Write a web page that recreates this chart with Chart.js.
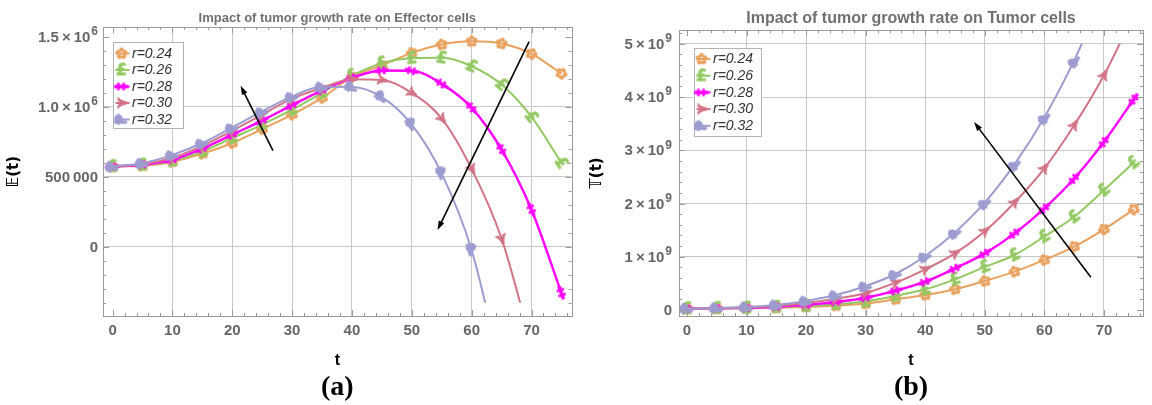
<!DOCTYPE html>
<html>
<head>
<meta charset="utf-8">
<script src="https://cdn.jsdelivr.net/npm/chart.js@4.4.1/dist/chart.umd.min.js"></script>
<style>
  html, body { margin: 0; padding: 0; background: #fff; }
  #wrap { position: relative; width: 1152px; height: 405px; overflow: hidden; }
  #effector { position: absolute; left: 0; top: 0; }
  #tumor { position: absolute; left: 580px; top: 0; }
</style>
</head>
<body>
<div id="wrap">
  <canvas id="effector" width="580" height="405"></canvas>
  <canvas id="tumor" width="572" height="405"></canvas>
</div>
<script>
/* ── Datos: muestreo cada 5 días ── */
var T_POINTS = [0, 5, 10, 15, 20, 25, 30, 35, 40, 45, 50, 55, 60, 65, 70, 75];
var RATES    = ['r=0.24', 'r=0.26', 'r=0.28', 'r=0.30', 'r=0.32'];

/* Células efectoras E(t) */
var E_024 = [572000, 578000, 605000, 664000, 740000, 840000, 943000, 1062000, 1212000, 1295000, 1383000, 1443000, 1466000, 1450000, 1376000, 1236000];
var E_026 = [572000, 582000, 612000, 680000, 776000, 871000, 978000, 1098000, 1221000, 1310000, 1345000, 1348000, 1288000, 1157000, 926000, 598000];
var E_028 = [572000, 585000, 620000, 700000, 800000, 900000, 1010000, 1116000, 1205000, 1257000, 1255000, 1162000, 991000, 693000, 264000, -331000];
var E_030 = [572000, 590000, 635000, 720000, 828000, 943000, 1057000, 1133000, 1195000, 1190000, 1098000, 914000, 555000, 57000, -700000, null];
var E_032 = [572000, 596000, 655000, 740000, 852000, 966000, 1073000, 1141000, 1140000, 1068000, 871000, 521000, -26000, -900000, null, null];

/* Células tumorales T(t), en unidades de 10^9 */
var T_024 = [0.025, 0.028, 0.033, 0.042, 0.058, 0.08, 0.12, 0.2, 0.282, 0.39, 0.545, 0.72, 0.94, 1.19, 1.515, 1.89];
var T_026 = [0.025, 0.029, 0.037, 0.05, 0.075, 0.11, 0.16, 0.263, 0.388, 0.576, 0.81, 1.033, 1.38, 1.75, 2.25, 2.77];
var T_028 = [0.025, 0.031, 0.042, 0.06, 0.095, 0.15, 0.23, 0.363, 0.532, 0.783, 1.064, 1.44, 1.91, 2.47, 3.16, 3.96];
var T_030 = [0.025, 0.033, 0.048, 0.075, 0.13, 0.21, 0.32, 0.513, 0.764, 1.064, 1.48, 2.02, 2.66, 3.47, 4.41, 5.55];
var T_032 = [0.025, 0.035, 0.055, 0.095, 0.17, 0.28, 0.45, 0.676, 1.014, 1.459, 2.02, 2.74, 3.62, 4.69, 5.95, null];

/* Marcas de los ejes (mantisa y exponente por separado) */
var X_TICKS       = [0, 10, 20, 30, 40, 50, 60, 70];
var X_TICK_LABELS = ['0', '10', '20', '30', '40', '50', '60', '70'];
var E_TICKS       = [0, 500000, 1000000, 1500000];
var E_TICK_LABELS = ['0', '500\u2009000', '1.0\u2009\u00d7\u200910', '1.5\u2009\u00d7\u200910'];
var E_TICK_EXP    = ['', '', '6', '6'];
var T_TICKS       = [0, 1, 2, 3, 4, 5];
var T_TICK_LABELS = ['0', '1\u2009\u00d7\u200910', '2\u2009\u00d7\u200910', '3\u2009\u00d7\u200910', '4\u2009\u00d7\u200910', '5\u2009\u00d7\u200910'];
var T_TICK_EXP    = ['', '9', '9', '9', '9', '9'];

/* Estilo de cada serie */
var COLORS     = ['#E9A15E', '#93C962', '#FF00FF', '#D27386', '#9C9CD0'];
var GLYPHS     = ['\u273f', '\u00a3', '\u2021', '\u22ce', '\u20b1'];
var GLYPH_TURN = [0, 0, -90, -90, -90];

var FONT = 'Liberation Sans';

/* ════════════════════════════════════════
   MARCADORES (glifos en canvas)
════════════════════════════════════════ */
function makeMarker(glyph, color, turn) {
  var c = document.createElement('canvas');
  c.width = 20; c.height = 20;
  var g = c.getContext('2d');
  g.translate(10, 10);
  g.rotate(turn * Math.PI / 180);
  g.fillStyle = color;
  g.strokeStyle = color;
  g.lineWidth = 0.8;
  g.font = 'bold 15px "DejaVu Sans"';
  g.textAlign = 'center';
  g.textBaseline = 'middle';
  g.fillText(glyph, 0, 1);
  g.strokeText(glyph, 0, 1);
  return c;
}
var MARKERS = GLYPHS.map(function(gl, k) { return makeMarker(gl, COLORS[k], GLYPH_TURN[k]); });

/* El marcador se orienta con la dirección de la curva */
function alongLine(ctx) {
  var chart = ctx.chart, data = ctx.dataset.data, i = ctx.dataIndex;
  var xs = chart.scales.x, ys = chart.scales.y;
  if (!xs || !ys || !data[i] || data[i].y === null) return 0;
  var a = (i > 0 && data[i - 1].y !== null) ? i - 1 : i;
  var b = (i < data.length - 1 && data[i + 1].y !== null) ? i + 1 : i;
  if (a === b) return 0;
  var dx = xs.getPixelForValue(data[b].x) - xs.getPixelForValue(data[a].x);
  var dy = ys.getPixelForValue(data[b].y) - ys.getPixelForValue(data[a].y);
  return Math.atan2(dy, dx) * 180 / Math.PI;
}

function series(values, k) {
  return {
    label: RATES[k],
    data: T_POINTS.map(function(t, i) { return { x: t, y: values[i] }; }),
    borderColor: COLORS[k],
    backgroundColor: COLORS[k],
    borderWidth: k === 2 ? 2.4 : 2,
    cubicInterpolationMode: 'monotone',
    pointStyle: MARKERS[k],
    pointRadius: 6,
    pointRotation: alongLine,
    clip: false,
    order: 4 - k
  };
}

/* ════════════════════════════════════════
   PLUGIN: marco, leyenda, flechas, títulos
════════════════════════════════════════ */
function seg(ctx, x1, y1, x2, y2) {
  ctx.beginPath(); ctx.moveTo(x1, y1); ctx.lineTo(x2, y2); ctx.stroke();
}

function frameTicks(ctx, scale, a, values, len) {
  values.forEach(function(v) {
    var p = Math.round(scale.getPixelForValue(v)) + 0.5;
    if (scale.isHorizontal()) {
      if (p < a.left || p > a.right) return;
      seg(ctx, p, a.bottom, p, a.bottom - len);
      seg(ctx, p, a.top, p, a.top + len);
    } else {
      if (p < a.top || p > a.bottom) return;
      seg(ctx, a.left, p, a.left + len, p);
      seg(ctx, a.right, p, a.right - len, p);
    }
  });
}

function minorValues(scale, step, majors) {
  var out = [];
  for (var v = Math.ceil(scale.min / step) * step; v <= scale.max; v += step) {
    var r = Math.round(v * 1e6) / 1e6;
    if (majors.indexOf(r) < 0) out.push(r);
  }
  return out;
}

function drawArrow(ctx, x1, y1, x2, y2) {
  var ang = Math.atan2(y2 - y1, x2 - x1), c = Math.cos(ang), s = Math.sin(ang);
  var L = 9, W = 3;
  ctx.lineWidth = 1.6;
  seg(ctx, x1, y1, x2 - c * L * 0.7, y2 - s * L * 0.7);
  ctx.beginPath();
  ctx.moveTo(x2, y2);
  ctx.lineTo(x2 - c * L + s * W, y2 - s * L - c * W);
  ctx.lineTo(x2 - c * L - s * W, y2 - s * L + c * W);
  ctx.closePath();
  ctx.fill();
}

/* Etiquetas del eje Y con exponente elevado */
function drawYLabels(ctx, ys, a, opts) {
  ctx.save();
  ctx.fillStyle = '#666';
  ctx.textBaseline = 'middle';
  ctx.textAlign = 'left';
  opts.yTicks.forEach(function(v, i) {
    var y = ys.getPixelForValue(v);
    var base = opts.yLabels[i], exp = opts.yExp[i];
    ctx.font = 'bold 15px "' + FONT + '"';
    var wb = ctx.measureText(base).width;
    ctx.font = 'bold 12px "' + FONT + '"';
    var we = exp ? ctx.measureText(exp).width + 1 : 0;
    var x0 = a.left - opts.yPad - wb - we;
    ctx.font = 'bold 15px "' + FONT + '"';
    ctx.fillText(base, x0, y + 1);
    if (exp) {
      ctx.font = 'bold 12px "' + FONT + '"';
      ctx.fillText(exp, x0 + wb + 1, y - 5);
    }
  });
  ctx.restore();
}

var panelPlugin = {
  id: 'panel',
  beforeDatasetsDraw: function(chart, args, opts) {
    /* las curvas se recortan al rango de la gráfica */
    var a = chart.chartArea, ys = chart.scales.y, ctx = chart.ctx;
    var top = Math.max(a.top, ys.getPixelForValue(opts.clip[1]));
    var bottom = Math.min(a.bottom, ys.getPixelForValue(opts.clip[0]));
    ctx.save();
    ctx.beginPath();
    ctx.rect(a.left, top, a.right - a.left, bottom - top);
    ctx.clip();
  },
  afterDatasetsDraw: function(chart, args, opts) {
    var ctx = chart.ctx, a = chart.chartArea;
    var xs = chart.scales.x, ys = chart.scales.y;
    ctx.restore();

    /* marco con marcas hacia dentro */
    ctx.save();
    ctx.strokeStyle = '#9a9a9a';
    ctx.lineWidth = 1;
    ctx.strokeRect(Math.round(a.left) + 0.5, Math.round(a.top) + 0.5,
                   Math.round(a.right - a.left), Math.round(a.bottom - a.top));
    frameTicks(ctx, xs, a, opts.xTicks, 6);
    frameTicks(ctx, ys, a, opts.yTicks, 6);
    frameTicks(ctx, xs, a, minorValues(xs, opts.minorX, opts.xTicks), 3);
    frameTicks(ctx, ys, a, minorValues(ys, opts.minorY, opts.yTicks), 3);
    ctx.restore();

    drawYLabels(ctx, ys, a, opts);

    /* flechas */
    ctx.save();
    ctx.strokeStyle = '#000';
    ctx.fillStyle = '#000';
    opts.arrows.forEach(function(ar) {
      drawArrow(ctx, xs.getPixelForValue(ar.from[0]), ys.getPixelForValue(ar.from[1]),
                     xs.getPixelForValue(ar.to[0]), ys.getPixelForValue(ar.to[1]));
    });
    ctx.restore();

    /* leyenda */
    var lg = opts.legend;
    var bx = Math.round(a.left + lg.dx) + 0.5, by = Math.round(a.top + lg.dy) + 0.5;
    ctx.save();
    ctx.fillStyle = '#fff';
    ctx.strokeStyle = '#b4b4b4';
    ctx.lineWidth = 1;
    ctx.fillRect(bx, by, lg.w, lg.h);
    ctx.strokeRect(bx, by, lg.w, lg.h);
    chart.data.datasets.forEach(function(ds, k) {
      var y = by + lg.first + k * lg.row;
      ctx.strokeStyle = ds.borderColor;
      ctx.lineWidth = 2;
      seg(ctx, bx + 2, y, bx + 16, y);
      var m = ds.pointStyle;
      ctx.drawImage(m, bx + lg.mark - m.width / 2, y - m.height / 2);
      ctx.fillStyle = '#333';
      ctx.font = 'italic 14px "' + FONT + '"';
      ctx.textAlign = 'left';
      ctx.textBaseline = 'middle';
      ctx.fillText(ds.label, bx + 18.5, y + 0.5);
    });
    ctx.restore();
  },
  afterDraw: function(chart, args, opts) {
    var ctx = chart.ctx, a = chart.chartArea, cx = (a.left + a.right) / 2;
    ctx.save();
    ctx.textAlign = 'center';
    ctx.textBaseline = 'middle';
    ctx.fillStyle = '#707070';
    ctx.font = 'bold ' + opts.titleSize + 'px "' + FONT + '"';
    ctx.fillText(opts.title, cx, opts.titleY);
    ctx.fillStyle = '#000';
    ctx.font = 'bold 28px "Liberation Serif"';
    ctx.fillText(opts.tag, cx, 388);
    ctx.restore();
  }
};

/* ════════════════════════════════════════
   CONFIGURACIÓN COMÚN
════════════════════════════════════════ */
function gridExcept(hidden) {
  return function(ctx) {
    return ctx.tick && hidden.indexOf(ctx.tick.value) >= 0 ? 'rgba(0,0,0,0)' : '#c8c8c8';
  };
}

var tickFont = { family: FONT, size: 15, weight: 'bold' };

function makeChart(canvasId, datasets, cfg) {
  cfg.panel.yTicks = cfg.yTicks;
  cfg.panel.yLabels = cfg.yLabels;
  cfg.panel.yExp = cfg.yExp;
  cfg.panel.yPad = cfg.yPad;
  return new Chart(document.getElementById(canvasId).getContext('2d'), {
    type: 'line',
    data: { datasets: datasets },
    plugins: [panelPlugin],
    options: {
      responsive: false,
      animation: false,
      layout: { padding: { top: cfg.padTop, right: cfg.padRight, bottom: 0, left: 0 } },
      plugins: {
        legend: { display: false },
        tooltip: { enabled: false },
        panel: cfg.panel
      },
      scales: {
        x: {
          type: 'linear',
          min: cfg.xMin, max: cfg.xMax,
          afterFit: function(s) { s.height = 89; },
          afterBuildTicks: function(s) { s.ticks = X_TICKS.map(function(v) { return { value: v }; }); },
          grid: { color: gridExcept([0]), drawTicks: false, lineWidth: 1 },
          border: { display: false },
          ticks: {
            autoSkip: false, maxRotation: 0, padding: 6, color: '#666', font: tickFont,
            callback: function(v) { return X_TICK_LABELS[X_TICKS.indexOf(v)]; }
          },
          title: {
            display: true, text: 't', color: '#000',
            font: { family: FONT, size: 16, weight: 'bold' },
            padding: { top: 0, bottom: 35 }
          }
        },
        y: {
          type: 'linear',
          min: cfg.yMin, max: cfg.yMax,
          afterFit: function(s) { s.width = cfg.yWidth; },
          afterBuildTicks: function(s) { s.ticks = cfg.yTicks.map(function(v) { return { value: v }; }); },
          grid: { color: gridExcept(cfg.yNoGrid), drawTicks: false, lineWidth: 1 },
          border: { display: false },
          ticks: { display: false },
          title: {
            display: true, text: cfg.yTitle, color: '#000',
            font: { family: 'DejaVu Sans', size: 15, weight: 'bold' },
            padding: { top: cfg.yTitlePad, bottom: 0 }
          }
        }
      }
    }
  });
}

/* ── (a) Células efectoras ── */
makeChart('effector',
  [series(E_024, 0), series(E_026, 1), series(E_028, 2), series(E_030, 3), series(E_032, 4)],
  {
    padTop: 27, padRight: 8,
    xMin: -1.6, xMax: 76.7,
    yMin: -495000, yMax: 1568000,
    yWidth: 103, yPad: 5, yTitlePad: 5,
    yTicks: E_TICKS, yLabels: E_TICK_LABELS, yExp: E_TICK_EXP, yNoGrid: [1500000],
    yTitle: '\ud835\udd3c(t)',
    panel: {
      title: 'Impact of tumor growth rate on Effector cells', titleSize: 13, titleY: 18,
      tag: '(a)',
      clip: [-400000, 1600000],
      xTicks: X_TICKS, minorX: 2, minorY: 100000,
      legend: { dx: 10, dy: 15, w: 70, h: 86, first: 11, row: 16.5, mark: 8 },
      arrows: [
        { from: [26.8, 685000], to: [21.4, 1149000] },
        { from: [69.6, 1463000], to: [54.3, 119000] }
      ]
    }
  });

/* ── (b) Células tumorales ── */
makeChart('tumor',
  [series(T_024, 0), series(T_026, 1), series(T_028, 2), series(T_030, 3), series(T_032, 4)],
  {
    padTop: 30, padRight: 9,
    xMin: -1.34, xMax: 76.55,
    yMin: -0.113, yMax: 5.26,
    yWidth: 99, yPad: 7, yTitlePad: 8,
    yTicks: T_TICKS, yLabels: T_TICK_LABELS, yExp: T_TICK_EXP, yNoGrid: [0],
    yTitle: '\ud835\udd4b(t)',
    panel: {
      title: 'Impact of tumor growth rate on Tumor cells', titleSize: 16, titleY: 19,
      tag: '(b)',
      clip: [-1, 5.0],
      xTicks: X_TICKS, minorX: 2, minorY: 0.2,
      legend: { dx: 15, dy: 18, w: 67, h: 88, first: 10.5, row: 16.7, mark: 7 },
      arrows: [
        { from: [67.8, 0.614], to: [48.2, 3.53] }
      ]
    }
  });
</script>
</body>
</html>
